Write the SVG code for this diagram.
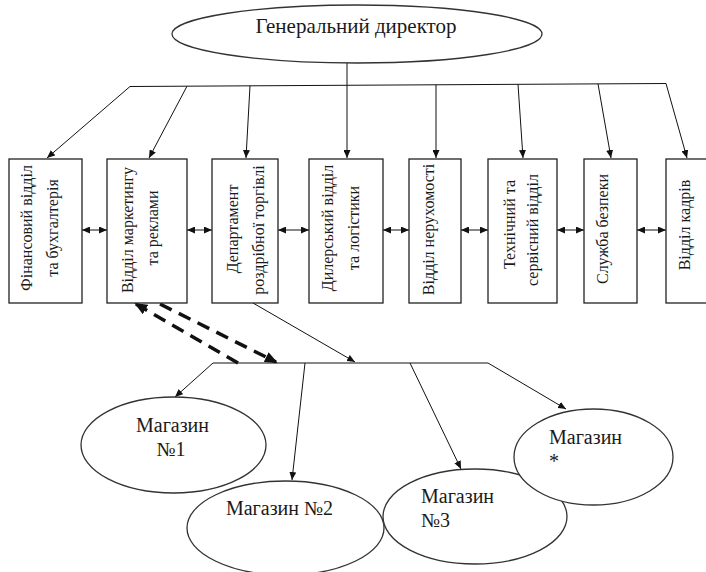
<svg xmlns="http://www.w3.org/2000/svg" width="706" height="572" viewBox="0 0 706 572" font-family="Liberation Serif, serif">
<style>
.bg{fill:#fff}
.box{fill:#fff;stroke:#222;stroke-width:1.3}
.ell{fill:#fff;stroke:#333;stroke-width:1.3}
.ln{fill:none;stroke:#111;stroke-width:1}
.dash{fill:none;stroke:#111;stroke-width:3.5;stroke-dasharray:13 8}
.t{fill:#1a1a1a}
.tb{font-size:16px;text-anchor:middle}
.te{font-size:20px}
.td{font-size:21px;text-anchor:middle}
</style>
<defs>
<marker id="a" markerWidth="8" markerHeight="7" refX="8" refY="3.5" orient="auto" markerUnits="userSpaceOnUse"><path d="M0,0 L8,3.5 L0,7 z" fill="#111"/></marker>
<marker id="ab" markerWidth="8" markerHeight="7" refX="8" refY="3.5" orient="auto-start-reverse" markerUnits="userSpaceOnUse"><path d="M0,0 L8,3.5 L0,7 z" fill="#111"/></marker>
<marker id="ad" markerWidth="13" markerHeight="11" refX="11" refY="5.5" orient="auto" markerUnits="userSpaceOnUse"><path d="M0,0 L13,5.5 L0,11 z" fill="#111"/></marker>
</defs>
<rect class="bg" x="0" y="0" width="706" height="572"/>

<g id="connectors">
<line class="ln" x1="347" y1="63" x2="347" y2="158" marker-end="url(#a)"/>
<line class="ln" x1="130" y1="86.5" x2="666" y2="83.5"/>
<line class="ln" x1="130" y1="86.5" x2="47" y2="158" marker-end="url(#a)"/>
<line class="ln" x1="187" y1="86.2" x2="149" y2="158" marker-end="url(#a)"/>
<line class="ln" x1="250" y1="85.8" x2="246" y2="158" marker-end="url(#a)"/>
<line class="ln" x1="436" y1="84.8" x2="436" y2="158" marker-end="url(#a)"/>
<line class="ln" x1="518" y1="84.3" x2="523" y2="158" marker-end="url(#a)"/>
<line class="ln" x1="598" y1="83.9" x2="611" y2="158" marker-end="url(#a)"/>
<line class="ln" x1="666" y1="83.5" x2="687" y2="158" marker-end="url(#a)"/>

<line class="ln" x1="82" y1="230" x2="107" y2="230" marker-start="url(#ab)" marker-end="url(#ab)"/>
<line class="ln" x1="187" y1="230" x2="212" y2="230" marker-start="url(#ab)" marker-end="url(#ab)"/>
<line class="ln" x1="278" y1="230" x2="309" y2="230" marker-start="url(#ab)" marker-end="url(#ab)"/>
<line class="ln" x1="383" y1="230" x2="409" y2="230" marker-start="url(#ab)" marker-end="url(#ab)"/>
<line class="ln" x1="461" y1="230" x2="488" y2="230" marker-start="url(#ab)" marker-end="url(#ab)"/>
<line class="ln" x1="557" y1="230" x2="584" y2="230" marker-start="url(#ab)" marker-end="url(#ab)"/>
<line class="ln" x1="637" y1="230" x2="666" y2="230" marker-start="url(#ab)" marker-end="url(#ab)"/>

<line class="ln" x1="253" y1="303" x2="355" y2="362" marker-end="url(#a)"/>
<line class="ln" x1="213" y1="363" x2="488" y2="363"/>
<line class="ln" x1="213" y1="363" x2="175" y2="397" marker-end="url(#a)"/>
<line class="ln" x1="305" y1="363" x2="292" y2="480" marker-end="url(#a)"/>
<line class="ln" x1="410" y1="363" x2="461" y2="469" marker-end="url(#a)"/>
<line class="ln" x1="488" y1="363" x2="566" y2="409" marker-end="url(#a)"/>

<line class="dash" x1="238" y1="363" x2="136" y2="304" marker-end="url(#ad)"/>
<line class="dash" x1="160" y1="304" x2="276" y2="362" marker-end="url(#ad)"/>
</g>

<g id="director">
<ellipse class="ell" cx="357" cy="34" rx="185" ry="29"/>
<text class="t td" x="356" y="33">Генеральний директор</text>
</g>

<g id="finance">
<rect class="box" x="9" y="159" width="73" height="144"/>
<text class="t tb" transform="translate(32,228) rotate(-90)">Фінансовий відділ</text>
<text class="t tb" transform="translate(58,228) rotate(-90)">та бухгалтерія</text>
</g>
<g id="marketing">
<rect class="box" x="107" y="159" width="80" height="144"/>
<text class="t tb" transform="translate(133,230) rotate(-90)">Відділ маркетингу</text>
<text class="t tb" transform="translate(158,228) rotate(-90)">та реклами</text>
</g>
<g id="retail">
<rect class="box" x="212" y="159" width="66" height="144"/>
<text class="t tb" transform="translate(238,229) rotate(-90)">Департамент</text>
<text class="t tb" transform="translate(264,230) rotate(-90)">роздрібної торгівлі</text>
</g>
<g id="dealer">
<rect class="box" x="309" y="159" width="74" height="144"/>
<text class="t tb" transform="translate(333,228) rotate(-90)">Дилерський відділ</text>
<text class="t tb" transform="translate(359,228) rotate(-90)">та логістики</text>
</g>
<g id="realty">
<rect class="box" x="409" y="159" width="52" height="144"/>
<text class="t tb" transform="translate(434,229.5) rotate(-90)">Відділ нерухомості</text>
</g>
<g id="tech">
<rect class="box" x="488" y="159" width="69" height="144"/>
<text class="t tb" transform="translate(515,224.5) rotate(-90)">Технічний та</text>
<text class="t tb" transform="translate(538,230) rotate(-90)">сервісний відділ</text>
</g>
<g id="security">
<rect class="box" x="584" y="159" width="53" height="144"/>
<text class="t tb" transform="translate(608,229) rotate(-90)">Служба безпеки</text>
</g>
<g id="hr">
<rect class="box" x="666" y="159" width="60" height="144"/>
<text class="t tb" transform="translate(690,225) rotate(-90)">Відділ кадрів</text>
</g>

<g id="shop1">
<ellipse class="ell" cx="173.5" cy="445" rx="92.5" ry="48"/>
<text class="t te" x="172.5" y="432" text-anchor="middle">Магазин</text>
<text class="t te" x="171" y="456" text-anchor="middle">№1</text>
</g>
<g id="shop2">
<ellipse class="ell" cx="285.5" cy="528" rx="98.5" ry="47"/>
<text class="t te" x="279.5" y="515" text-anchor="middle">Магазин №2</text>
</g>
<g id="shop3">
<ellipse class="ell" cx="475" cy="516.5" rx="92" ry="47.5"/>
<text class="t te" x="421" y="503">Магазин</text>
<text class="t te" x="421" y="527">№3</text>
</g>
<g id="shopx">
<ellipse class="ell" cx="593.5" cy="457" rx="79.5" ry="48"/>
<text class="t te" x="549" y="444">Магазин</text>
<text class="t te" x="549" y="468">*</text>
</g>
</svg>
